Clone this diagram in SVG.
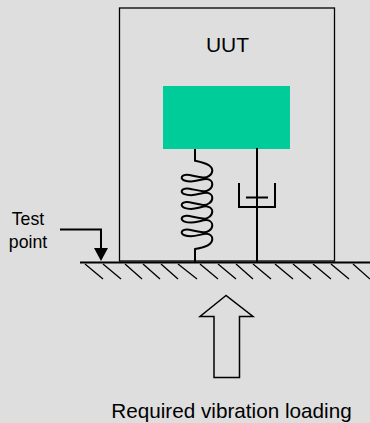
<svg xmlns="http://www.w3.org/2000/svg" width="370" height="423" viewBox="0 0 370 423">
<style>
text{font-family:"Liberation Sans",Arial,sans-serif;fill:#000;text-anchor:middle}
.l{fill:none;stroke:#000;stroke-width:1.3}
.t{fill:none;stroke:#000;stroke-width:2}
</style>
<rect width="370" height="423" fill="#dedede"/>
<g id="uut"><rect x="119.500" y="8" width="215" height="253" class="l"/><text x="227.500" y="52.300" font-size="21">UUT</text></g>
<g id="mass"><rect x="163" y="86" width="127" height="63" fill="#00cc99"/></g>
<g id="ground"><path d="M80 262.500H370" class="t"/>
<path class="l" d="M85 264L103 279M103 264L121 279M125 264L142 279M143 264L160 279M161 264L178 279M178 264L197 279M200 264L218 279M218 264L236 279M236 264L253 279M253 264L271 279M275 264L293 279M293 264L311 279M313 264L331 279M331 264L349 279M353 264L370 279"/></g>
<g id="spring"><path class="t" stroke-linejoin="round" d="M195 149V160.700C205 162.500 212.300 165 212.300 170.500
c0 4.500 -5.300 7.500 -9.300 7c-6 -.5 -13 -3 -16.500 -2.800c-3 .3 -4.800 1.300 -4.800 3c0 2.300 4.300 3.800 9.300 3.800c6 0 12 -3 16 -2.500c3.500 .5 5.300 3 5.300 5.200
c0 4.500 -5.300 7.500 -9.300 7c-6 -.5 -13 -3 -16.500 -2.800c-3 .3 -4.800 1.300 -4.800 3c0 2.300 4.300 3.800 9.300 3.800c6 0 12 -3 16 -2.500c3.500 .5 5.300 3 5.300 5.200
c0 4.500 -5.300 7.500 -9.300 7c-6 -.5 -13 -3 -16.500 -2.800c-3 .3 -4.800 1.300 -4.800 3c0 2.300 4.300 3.800 9.300 3.800c6 0 12 -3 16 -2.500c3.500 .5 5.300 3 5.300 5.200
c0 4.500 -5.300 7.500 -9.300 7c-6 -.5 -13 -3 -16.500 -2.800c-3 .3 -4.800 1.300 -4.800 3c0 2.300 4.300 3.800 9.300 3.800c6 0 12 -3 16 -2.500c3.500 .5 5.300 3 5.300 5.200
c0 4.500 -5.300 7.500 -9.300 7c-6 -.5 -13 -3 -16.500 -2.800c-3 .3 -4.800 1.300 -4.800 3c0 2.300 4.300 3.800 9.300 3.800c6 0 12 -3 16 -2.500c3.500 .5 5.300 3 5.300 5.200
C212.300 244 205 247.500 195 249V262"/></g>
<g id="damper"><path class="t" d="M257 148V262M239 183V207H275V183M246 197.500H268"/></g>
<g id="test-point"><text x="28" y="225" font-size="17.700">Test</text><text x="28" y="247.700" font-size="17.700">point</text></g>
<g id="connectors"><path class="t" d="M60 229.500H101V250"/><path d="M94 248H108L101 261Z"/>
<path d="M226 295.500L200 316.500H214V377.500H239.500V316.500H253Z" fill="none" stroke="#000" stroke-width="1.500"/></g>
<g id="load"><text x="231.500" y="417.500" font-size="20.700">Required vibration loading</text></g>
</svg>
